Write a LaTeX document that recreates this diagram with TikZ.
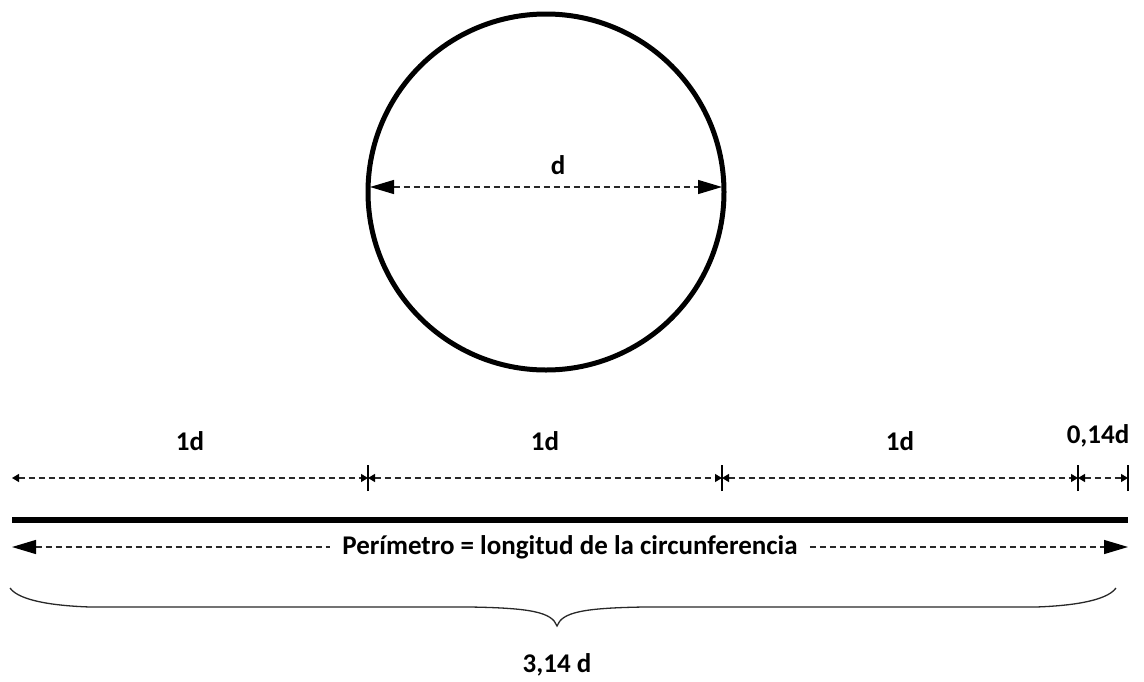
\documentclass[tikz,border=0pt]{standalone}
\usepackage{fontspec}
\setmainfont{Carlito}
\usetikzlibrary{arrows.meta}
\definecolor{dimgray}{RGB}{40,40,40}
\tikzset{
  bigtip/.tip={Triangle[length=24pt,width=14pt,fill=black,color=black]},
  smalltip/.tip={Triangle[length=7pt,width=8pt,fill=black,color=black]},
  dimline/.style={draw=dimgray, line width=1.3pt, dash pattern=on 6pt off 4pt},
  lbl/.style={font=\fontsize{27}{30}\selectfont\bfseries, inner sep=0pt, text=black},
  tick/.style={draw=black, line width=1.2pt},
}
\begin{document}
\begin{tikzpicture}[x=1pt,y=-1pt]
\useasboundingbox (0,0) rectangle (1144,681);
% circle
\node[circle, draw=black, line width=5pt, minimum size=356pt, inner sep=0pt] (circ) at (546,192) {};
\coordinate (dl) at (370,187);
\coordinate (dr) at (722,187);
\draw[dimline, bigtip-bigtip] (dl) -- (dr);
\node[lbl] (dlab) at (558,165) {d};
% top dimension
\coordinate (t0) at (12,478);
\coordinate (t1) at (368,478);
\coordinate (t2) at (722,478);
\coordinate (t3) at (1078,478);
\coordinate (t4) at (1128,478);
\foreach \p in {t1,t2,t3,t4}{
  \draw[tick] ([yshift=-13pt]\p) -- ([yshift=13pt]\p);
}
\draw[dimline, smalltip-smalltip] (t0) -- (t1);
\draw[dimline, smalltip-smalltip] (t1) -- (t2);
\draw[dimline, smalltip-smalltip] (t2) -- (t3);
\draw[dimline, smalltip-smalltip] (t3) -- (t4);
\node[lbl] (l1) at (190,441) {1d};
\node[lbl] (l2) at (545,441) {1d};
\node[lbl] (l3) at (900,441) {1d};
\node[lbl] (l4) at (1098,436) {0,14d};
% thick line
\coordinate (p0) at (12,520);
\coordinate (p1) at (1128,520);
\draw[line width=6pt, black] (p0) -- (p1);
% perimeter arrow
\node[lbl, inner xsep=12pt] (per) at (570,547) {Perímetro = longitud de la circunferencia};
\coordinate (a0) at (12,547);
\coordinate (a1) at (1128,547);
\draw[dimline, bigtip-] (a0) -- (per.west);
\draw[dimline, -bigtip] (per.east) -- (a1);
% brace
\coordinate (b0) at (10,588);
\coordinate (bt) at (557,626);
\coordinate (b1) at (1116,588);
\draw[draw=dimgray, line width=1.3pt]
  (b0) .. controls (20,602) and (60,606) .. (90,607)
  -- (470,607) .. controls (530,608) and (552,612) .. (bt)
  .. controls (562,612) and (584,608) .. (644,607)
  -- (1036,607) .. controls (1066,606) and (1106,602) .. (b1);
\node[lbl] (res) at (557,665) {3,14 d};
\end{tikzpicture}
\end{document}
